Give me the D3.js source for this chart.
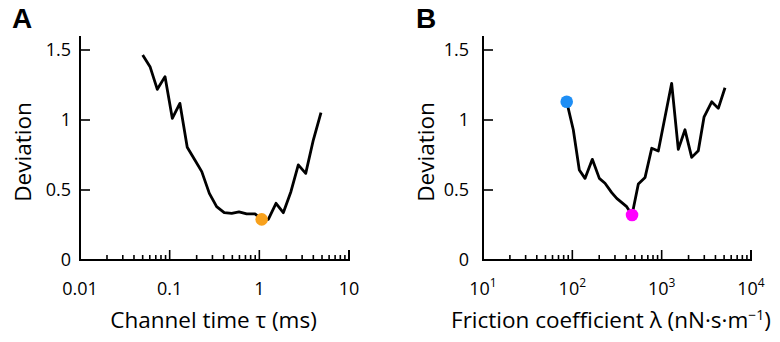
<!DOCTYPE html>
<html><head><meta charset="utf-8">
<script src="https://cdn.jsdelivr.net/npm/d3@7"></script>
<style>
body{margin:0;background:#fff;}
svg{display:block;font-family:"Open Sans",sans-serif;}
</style></head>
<body><svg id="c" width="780" height="342"></svg>
<script>
// Panel A: channel time tau (ms) vs deviation
const tauValues = [0.050,0.0604,0.0728,0.0887,0.107,0.130,0.157,0.191,0.228,0.277,0.334,0.406,0.492,0.593,0.722,0.895,1.062,1.259,1.535,1.85,2.25,2.72,3.29,4.0,4.87];
const devA      = [1.464,1.381,1.219,1.31,1.012,1.119,0.805,0.714,0.631,0.476,0.381,0.338,0.333,0.343,0.329,0.329,0.29,0.29,0.405,0.338,0.488,0.679,0.619,0.857,1.052];
const bestTau = {x:1.062, y:0.29};
// Panel B: friction coefficient lambda vs deviation
const lambdaValues = [86.5,102.5,119.7,138.6,167.4,200.6,232.2,276,314,406,466,548,652,774,917,1294,1535,1824,2168,2570,2978,3631,4305,5117];
const devB         = [1.13,0.93,0.643,0.583,0.719,0.583,0.548,0.481,0.44,0.381,0.321,0.543,0.59,0.798,0.779,1.262,0.79,0.93,0.733,0.78,1.02,1.13,1.083,1.23];
const startLambda = {x:86.5, y:1.13};
const bestLambda = {x:466, y:0.321};
const yTicks = [0, 0.5, 1, 1.5];
const yTickLabels = ["0","0.5","1","1.5"];
const xTicksA = [0.01, 0.1, 1, 10];
const xTickLabelsA = ["0.01","0.1","1","10"];
const xTicksB = [10, 100, 1000, 10000];
const xTickExpB = ["1","2","3","4"];

const svg = d3.select("#c");

function panel(opt){
  const g = svg.append("g");
  const x = d3.scaleLog().domain(opt.xDomain).range([opt.x0, opt.x1]);
  const y = d3.scaleLinear().domain([0,1.5]).range([260,50]);
  const d0 = Math.log10(opt.xDomain[0]), d1 = Math.log10(opt.xDomain[1]);
  for(let e=d0;e<d1;e++){
    for(let m=2;m<=9;m++){
      const v = m*Math.pow(10,e);
      g.append("line").attr("x1",x(v)).attr("x2",x(v)).attr("y1",260).attr("y2",255)
        .attr("stroke","#000").attr("stroke-width",1.6);
    }
  }
  opt.xTicks.forEach(v=>{
    g.append("line").attr("x1",x(v)).attr("x2",x(v)).attr("y1",260).attr("y2",250)
      .attr("stroke","#000").attr("stroke-width",1.6);
  });
  yTicks.slice(1).forEach(v=>{
    g.append("line").attr("x1",opt.x0).attr("x2",opt.x0+10).attr("y1",y(v)).attr("y2",y(v))
      .attr("stroke","#000").attr("stroke-width",1.6);
  });
  g.append("path").attr("d",`M${opt.x0},36V260H${opt.x1}V250`).attr("fill","none")
    .attr("stroke","#000").attr("stroke-width",2);
  yTicks.forEach((v,i)=>{
    g.append("text").attr("x",opt.x0-opt.yLabOff).attr("y",y(v)).attr("dy","0.36em")
      .attr("text-anchor","end").attr("font-size",18).text(yTickLabels[i]);
  });
  opt.xTicks.forEach((v,i)=>{
    const t = g.append("text").attr("x",x(v)).attr("y",295).attr("text-anchor","middle").attr("font-size",18);
    if(opt.exp){
      t.append("tspan").text("10");
      t.append("tspan").attr("dy",-8).attr("font-size",12).text(opt.exp[i]);
    } else t.text(opt.xLabels[i]);
  });
  g.append("text").attr("transform",`translate(${opt.x0-57},152) rotate(-90)`)
    .attr("text-anchor","middle").attr("dy","0.35em").attr("font-size",22.5).text("Deviation");
  const xt = g.append("text").attr("x",(opt.x0+opt.x1)/2+opt.titleShift).attr("y",328)
    .attr("text-anchor","middle").attr("font-size",22.5);
  opt.title(xt);
  g.append("text").attr("x",opt.letterX).attr("y",28).attr("font-family","'Liberation Sans',Arial,sans-serif")
    .attr("font-weight","bold").attr("font-size",28).text(opt.letter);
  const line = d3.line().x(d=>x(d[0])).y(d=>y(d[1]));
  g.append("path").datum(d3.zip(opt.xs,opt.ys)).attr("d",line).attr("fill","none")
    .attr("stroke","#000").attr("stroke-width",2.8).attr("stroke-linejoin","round");
  opt.dots.forEach(d=>{
    g.append("circle").attr("cx",x(d.x)).attr("cy",y(d.y)).attr("r",6.3).attr("fill",d.c);
  });
}

panel({xDomain:[0.01,10], x0:80, x1:349, xTicks:xTicksA, xLabels:xTickLabelsA,
  xs:tauValues, ys:devA, letter:"A", letterX:12, titleShift:-1, yLabOff:9,
  title:t=>t.text("Channel time τ (ms)"),
  dots:[{x:bestTau.x,y:bestTau.y,c:"#f8a11c"}]});

panel({xDomain:[10,10000], x0:483, x1:751, xTicks:xTicksB, exp:xTickExpB,
  xs:lambdaValues, ys:devB, letter:"B", letterX:416, titleShift:-6, yLabOff:14,
  title:t=>{t.append("tspan").text("Friction coefficient λ (nN·s·m");
    t.append("tspan").attr("dy",-8).attr("font-size",14).text("−1");
    t.append("tspan").attr("dy",8).text(")");},
  dots:[{x:startLambda.x,y:startLambda.y,c:"#1e8ef5"},{x:bestLambda.x,y:bestLambda.y,c:"#ff00ff"}]});
</script></body></html>
